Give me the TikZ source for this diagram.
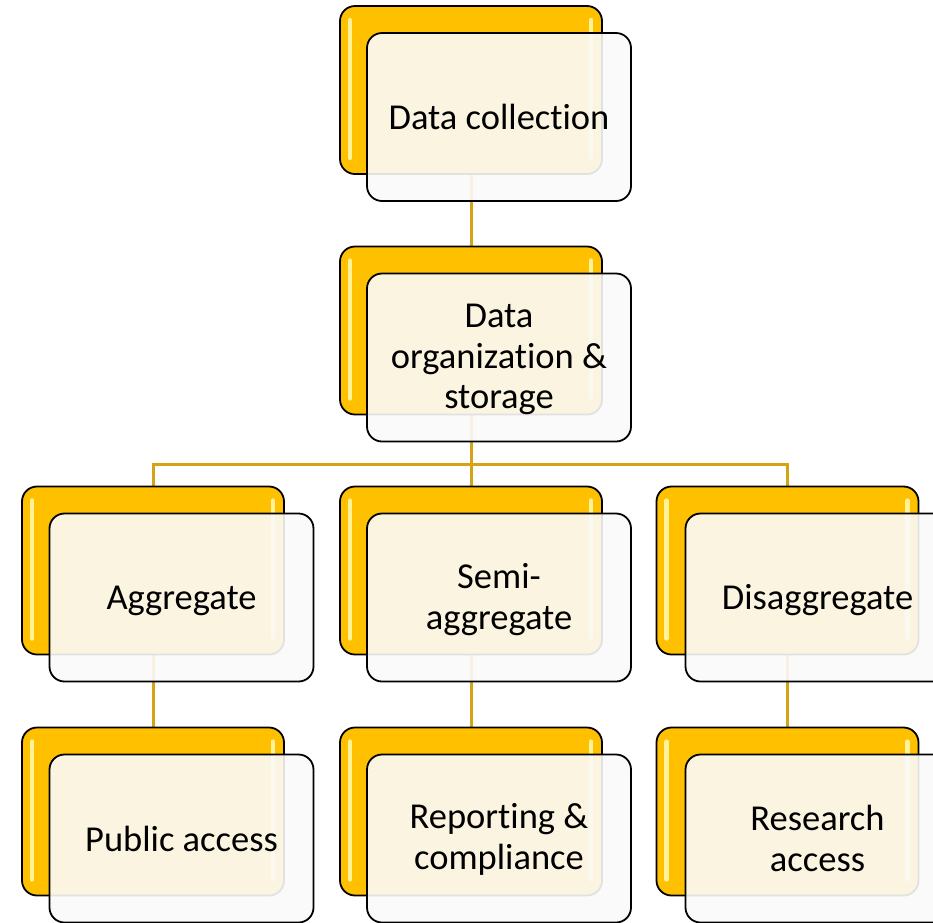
\documentclass[tikz,border=0pt]{standalone}
\usepackage{fontspec}
\setmainfont{Carlito}[Ligatures={NoCommon},Contextuals={NoAlternate}]
\usetikzlibrary{backgrounds}
\definecolor{gold}{HTML}{FFC000}
\definecolor{conn}{HTML}{D6A412}
\definecolor{frontfill}{HTML}{FAFAFA}
\newcommand{\ti}{t\kern0pt i}
\tikzset{
  backbox/.style={draw=black, line width=1.8pt, rounded corners=15pt, fill=gold,
    minimum width=262pt, minimum height=168pt, inner sep=0pt},
  frontbox/.style={draw=black, line width=1.8pt, rounded corners=15pt, fill=frontfill,
    fill opacity=0.9, minimum width=264pt, minimum height=168pt, inner sep=0pt},
  boxtext/.style={inner sep=0pt, align=center, font=\fontsize{36.5}{40.5}\selectfont},
  link/.style={draw=conn, line width=3pt},
  shine/.style={draw=yellow!30!white, line width=4.5pt, line cap=round, opacity=0.85}
}
\newcommand{\shinebox}[1]{%
  \draw[shine] ([xshift=11pt,yshift=-15pt]#1.north west) -- ([xshift=11pt,yshift=17pt]#1.south west);
  \draw[shine] ([xshift=-12pt,yshift=-15pt]#1.north east) -- ([xshift=-12pt,yshift=17pt]#1.south east);
}
\begin{document}
\begin{tikzpicture}[x=1pt,y=-1pt]
\useasboundingbox (0,0) rectangle (933,922);
% back boxes
\node[backbox] (b1) at (471,90) {};
\node[backbox] (b2) at (471,330.5) {};
\node[backbox] (b3a) at (153,570.5) {};
\node[backbox] (b3b) at (471,570.5) {};
\node[backbox] (b3c) at (787.5,570.5) {};
\node[backbox] (b4a) at (153,811.5) {};
\node[backbox] (b4b) at (471,811.5) {};
\node[backbox] (b4c) at (787.5,811.5) {};
\shinebox{b1}\shinebox{b2}\shinebox{b3a}\shinebox{b3b}\shinebox{b3c}\shinebox{b4a}\shinebox{b4b}\shinebox{b4c}
% front boxes
\node[frontbox] (f1) at (499,117) {};
\node[frontbox] (f2) at (499,357.5) {};
\node[frontbox] (f3a) at (181.5,597.5) {};
\node[frontbox] (f3b) at (499,597.5) {};
\node[frontbox] (f3c) at (817.5,597.5) {};
\node[frontbox] (f4a) at (181.5,838.5) {};
\node[frontbox] (f4b) at (499,838.5) {};
\node[frontbox] (f4c) at (817.5,838.5) {};
% texts
\node[boxtext] (t1) at (f1.center) {Data collec\ti on};
\node[boxtext] (t2) at ([yshift=-2pt]f2.center) {Data\\organiza\ti on \&\\storage};
\node[boxtext] (t3a) at ([yshift=-3pt]f3a.center) {Aggregate};
\node[boxtext] (t3b) at ([yshift=-2pt]f3b.center) {Semi-\\aggregate};
\node[boxtext] (t3c) at ([yshift=-3pt]f3c.center) {Disaggregate};
\node[boxtext] (t4a) at (f4a.center) {Public access};
\node[boxtext] (t4b) at ([yshift=-1pt]f4b.center) {Reporting \&\\compliance};
\node[boxtext] (t4c) at (f4c.center) {Research\\access};
% connectors
\coordinate (bus) at (471,464);
\begin{pgfonlayer}{background}
\draw[link] (b1.south) -- (b2.north);
\draw[link] (b2.south) -- (bus);
\draw[link] (b3a.north) -- (b3a.north |- bus) -- (b3c.north |- bus) -- (b3c.north);
\draw[link] (bus) -- (b3b.north);
\draw[link] (b3a.south) -- (b4a.north);
\draw[link] (b3b.south) -- (b4b.north);
\draw[link] (b3c.south) -- (b4c.north);
\end{pgfonlayer}
\end{tikzpicture}
\end{document}
